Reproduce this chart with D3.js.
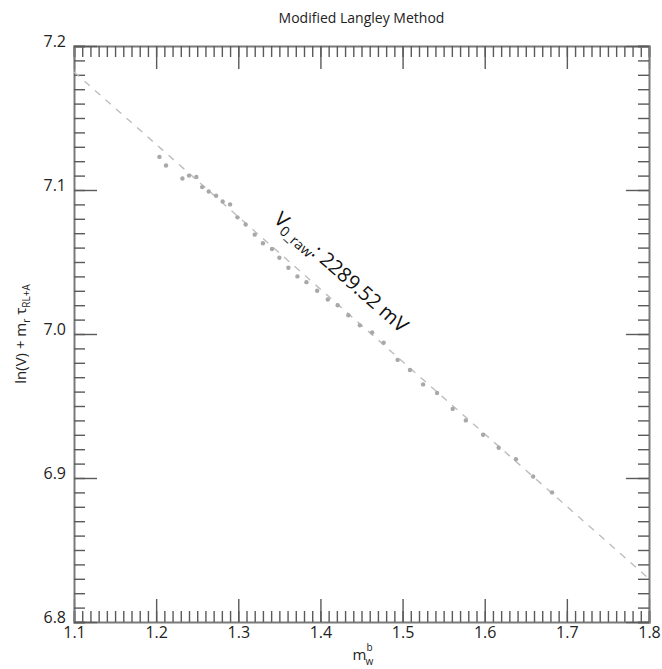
<!DOCTYPE html>
<html>
<head>
<meta charset="utf-8">
<title>Modified Langley Method</title>
<script src="https://cdn.jsdelivr.net/npm/d3@7"></script>
<style>
body { margin: 0; background: #fff; }
text { font-family: "Open Sans", "Noto Sans", sans-serif; }
.frame .domain { stroke: #7a7a7a; stroke-width: 2; }
.frame .tick line { stroke: #5a5a5a; stroke-width: 1.4; }
</style>
</head>
<body>
<script>

// x and y tick labels
var xTicks = [1.1, 1.2, 1.3, 1.4, 1.5, 1.6, 1.7, 1.8];
var yTicks = [6.8, 6.9, 7.0, 7.1, 7.2];

// measured points (m_w^b, ln(V) + m_r tau)
var mw = [1.204, 1.212, 1.232, 1.240, 1.249, 1.256, 1.264, 1.273, 1.281, 1.290,
          1.299, 1.309, 1.320, 1.330, 1.341, 1.350, 1.361, 1.372, 1.383, 1.396,
          1.409, 1.421, 1.434, 1.448, 1.463, 1.477, 1.494, 1.509, 1.525, 1.542,
          1.561, 1.577, 1.598, 1.617, 1.638, 1.659, 1.682];
var lnv = [7.123, 7.117, 7.108, 7.110, 7.109, 7.102, 7.099, 7.096, 7.092, 7.090,
           7.081, 7.076, 7.069, 7.063, 7.059, 7.053, 7.046, 7.040, 7.036, 7.030,
           7.024, 7.020, 7.013, 7.006, 7.001, 6.994, 6.982, 6.975, 6.965, 6.959,
           6.948, 6.940, 6.930, 6.921, 6.913, 6.901, 6.890];

// fitted line end points
var fitX = [1.1, 1.8];
var fitY = [7.182, 6.830];

var label = {x: 1.342, y: 7.0785, v0: "2289.52"};

var margin = {top: 46, right: 13, bottom: 47, left: 74},
  width = 662 - margin.left - margin.right,
  height = 669 - margin.top - margin.bottom;

var svg = d3.select("body").append("svg")
  .attr("width", 662)
  .attr("height", 669);

var g = svg.append("g")
  .attr("transform", "translate(" + margin.left + "," + margin.top + ")");

var x = d3.scaleLinear().domain([1.1, 1.8]).range([0, width]);
var y = d3.scaleLinear().domain([6.8, 7.2]).range([height, 0]);

var xMinor = d3.range(110, 181).map(function(d) { return d / 100; });
var yMinor = d3.range(680, 721).map(function(d) { return d / 100; });

function frame(axis, tr, minor, major, showText) {
  g.append("g").attr("class", "frame").attr("transform", tr)
    .call(axis.tickValues(minor).tickSize(-11).tickFormat(""));
  var a2 = g.append("g").attr("class", "frame").attr("transform", tr)
    .call(axis.tickValues(major).tickSize(-23)
      .tickFormat(showText ? d3.format(".1f") : ""));
  a2.select(".domain").remove();
  return a2;
}

var xb = frame(d3.axisBottom(x), "translate(0," + height + ")", xMinor, xTicks, true);
xb.selectAll("text").attr("y", 5).style("font-size", "16px").attr("fill", "#222");
frame(d3.axisTop(x), "", xMinor, xTicks, false);
var yl = frame(d3.axisLeft(y), "", yMinor, yTicks, true);
yl.selectAll("text").attr("x", -8).attr("dy", "0.05em").style("font-size", "16px").attr("fill", "#222");
frame(d3.axisRight(y), "translate(" + width + ",0)", yMinor, yTicks, false);
g.selectAll(".frame text").attr("font-family", null);

// fit line
var line = d3.line()
  .x(function(d, i) { return x(fitX[i]); })
  .y(function(d, i) { return y(fitY[i]); });
g.append("path")
  .datum(fitX)
  .attr("d", line)
  .attr("fill", "none")
  .attr("stroke", "#bdbdbd")
  .attr("stroke-width", 1.4)
  .attr("stroke-dasharray", "7,7");

// points
g.selectAll(".pt")
  .data(mw)
  .enter()
  .append("circle")
  .attr("cx", function(d) { return x(d); })
  .attr("cy", function(d, i) { return y(lnv[i]); })
  .attr("r", 2.2)
  .attr("fill", "#a8a8a8");

// annotation
var ang = Math.atan2(y(fitY[1]) - y(fitY[0]), x(fitX[1]) - x(fitX[0])) * 180 / Math.PI;
var ann = g.append("text")
  .attr("transform", "translate(" + x(label.x) + "," + y(label.y) + ") rotate(" + ang + ")")
  .style("font-size", "20px")
  .attr("fill", "#111");
ann.append("tspan").text("V");
ann.append("tspan").attr("dy", 5).style("font-size", "14px").text("0_raw");
ann.append("tspan").attr("dy", -5).text(": " + label.v0 + " mV");

// title
svg.append("text")
  .attr("x", margin.left + width / 2)
  .attr("y", 23)
  .attr("text-anchor", "middle")
  .style("font-size", "14px")
  .attr("fill", "#222")
  .text("Modified Langley Method");

// x label
var xt = svg.append("text")
  .attr("x", margin.left + width / 2 - 9)
  .attr("y", 660)
  .style("font-size", "15px")
  .attr("fill", "#222");
xt.append("tspan").text("m");
xt.append("tspan").attr("dy", -9).style("font-size", "10px").text("b");
xt.append("tspan").attr("x", margin.left + width / 2 + 4).attr("dy", 14).style("font-size", "10px").text("w");

// y label
var yt = svg.append("text")
  .attr("transform", "translate(26," + (margin.top + height / 2) + ") rotate(-90)")
  .attr("text-anchor", "middle")
  .style("font-size", "15px")
  .attr("fill", "#222");
yt.append("tspan").text("ln(V) + m");
yt.append("tspan").attr("dy", 4).style("font-size", "10px").text("r");
yt.append("tspan").attr("dy", -4).text(" \u03c4");
yt.append("tspan").attr("dy", 4).style("font-size", "10px").text("RL+A");

</script>
</body>
</html>
